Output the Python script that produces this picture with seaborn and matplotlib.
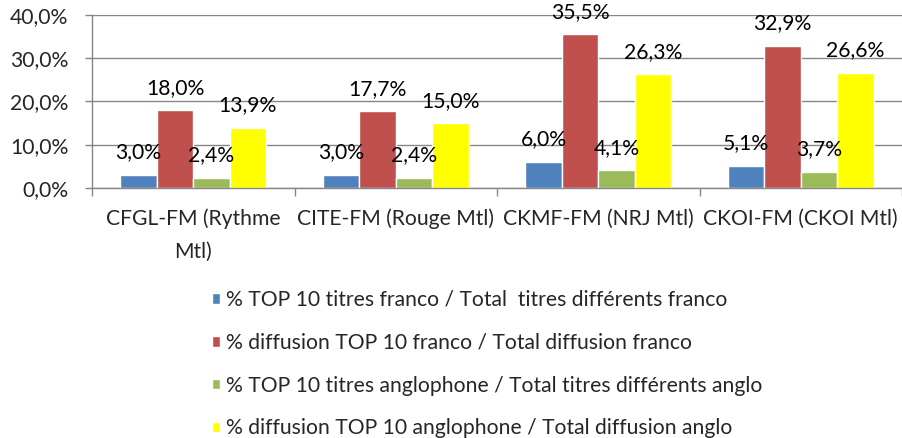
import matplotlib
matplotlib.use("Agg")
import matplotlib.pyplot as plt
import seaborn as sns
import pandas as pd
import numpy as np
from matplotlib.ticker import FuncFormatter, FixedLocator

categories = ["CFGL-FM (Rythme\nMtl)", "CITE-FM (Rouge Mtl)", "CKMF-FM (NRJ Mtl)", "CKOI-FM (CKOI Mtl)"]
series = [
    "% TOP 10 titres franco / Total  titres différents franco",
    "% diffusion TOP 10 franco / Total diffusion franco",
    "% TOP 10 titres anglophone / Total titres différents anglo",
    "% diffusion TOP 10 anglophone / Total diffusion anglo",
]
top10_titres_franco = [3.0, 3.0, 6.0, 5.1]
diffusion_top10_franco = [18.0, 17.7, 35.5, 32.9]
top10_titres_anglo = [2.4, 2.4, 4.1, 3.7]
diffusion_top10_anglo = [13.9, 15.0, 26.3, 26.6]
colors = ["#4F81BD", "#C0504D", "#9BBB59", "#FFFF00"]

values = [top10_titres_franco, diffusion_top10_franco, top10_titres_anglo, diffusion_top10_anglo]
rows = []
for s, vals in zip(series, values):
    for c, v in zip(categories, vals):
        rows.append({"cat": c, "series": s, "val": v})
df = pd.DataFrame(rows)

sns.set_theme(style="white")
plt.rcParams["font.family"] = ["Lato", "DejaVu Sans"]
FS = 15.2

fig = plt.figure(figsize=(9.02, 4.38), dpi=100)
ax = fig.add_axes([92/902, 1-188/438, 810/902, 173/438])

sns.barplot(data=df, x="cat", y="val", hue="series", palette=colors,
            width=0.72, gap=0, saturation=1, ax=ax, legend=True, order=categories, hue_order=series)

for cont in ax.containers:
    ax.bar_label(cont, labels=[f"{b.get_height():.1f}".replace(".", ",") + "%" for b in cont],
                 padding=9, fontsize=FS, color="black")

grid_c = "#868686"
ax.set_ylim(0, 40)
ax.set_xlim(-0.5, 3.5)
ax.set_yticks([0, 10, 20, 30, 40])
ax.yaxis.set_major_formatter(FuncFormatter(lambda v, p: f"{v:.1f}".replace(".", ",") + "%"))
ax.yaxis.grid(True, color=grid_c, linewidth=1.0)
ax.set_axisbelow(True)
for s in ["top", "right"]:
    ax.spines[s].set_visible(False)
for s in ["left", "bottom"]:
    ax.spines[s].set_color(grid_c)
    ax.spines[s].set_linewidth(1.0)
ax.tick_params(axis="y", which="major", length=5, color=grid_c, width=1.0, pad=12, labelsize=FS, left=True)
ax.tick_params(axis="x", which="major", length=0, pad=15, labelsize=FS)
ax.xaxis.set_minor_locator(FixedLocator([-0.5, 0.5, 1.5, 2.5, 3.5]))
ax.tick_params(axis="x", which="minor", length=6, color=grid_c, width=1.0, bottom=True)
ax.set_xlabel("")
ax.set_ylabel("")
for t in ax.get_xticklabels():
    t.set_horizontalalignment("center")
    t.set_multialignment("center")
    t.set_linespacing(1.75)

handles, labels = ax.get_legend_handles_labels()
ax.get_legend().remove()
fig.legend(handles, labels, loc="upper left", bbox_to_anchor=(212/902, 1-290/438),
           frameon=False, fontsize=FS, handlelength=0.4, handleheight=0.4,
           handletextpad=0.25, labelspacing=1.08, borderaxespad=0, borderpad=0)

fig.savefig("out.png", dpi=100)
